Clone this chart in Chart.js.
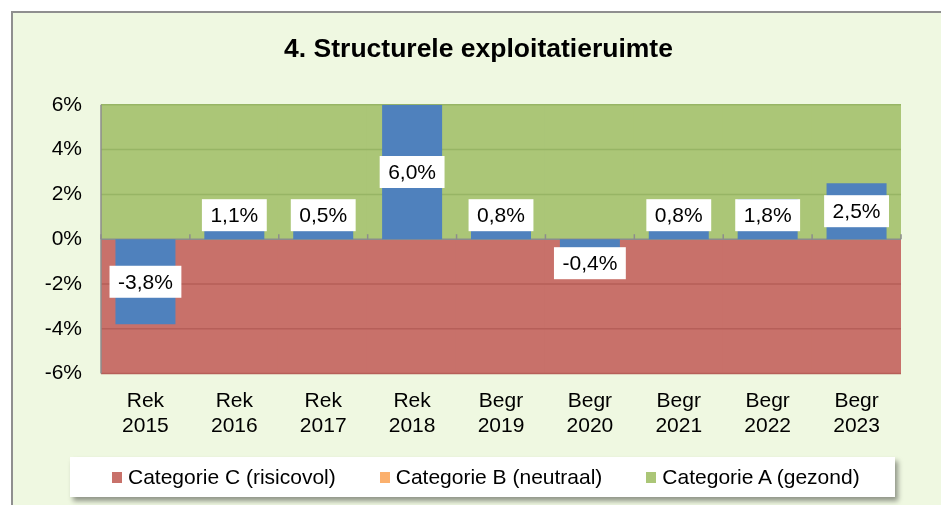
<!DOCTYPE html>
<html>
<head>
<meta charset="utf-8">
<script src="https://cdn.jsdelivr.net/npm/chart.js@4"></script>
<style>
  html, body { margin: 0; padding: 0; background: #ffffff; overflow: hidden; }
  #page { position: relative; width: 941px; height: 505px; }
  #wrap { position: absolute; left: 0; top: 0; width: 941px; height: 505px; }
  #legend { position: absolute; left: 70px; top: 457px; width: 825px; height: 40px; background: #ffffff;
            box-shadow: 3px 4px 5px rgba(0,0,0,0.4); display: flex; align-items: center;
            padding-left: 42px; box-sizing: border-box; font-family: 'Liberation Sans', Arial, sans-serif;
            font-size: 21px; color: #000; }
  .item { display: flex; align-items: center; margin-right: 44px; white-space: nowrap; }
  .swatch { width: 10px; height: 11px; margin-right: 6px; }
</style>
</head>
<body>
<div id="page">
<div id="wrap"><canvas id="chart" width="941" height="505"></canvas></div>
<div id="legend"></div>
</div>
<script>
const categories = [['Rek', '2015'], ['Rek', '2016'], ['Rek', '2017'], ['Rek', '2018'],
  ['Begr', '2019'], ['Begr', '2020'], ['Begr', '2021'], ['Begr', '2022'], ['Begr', '2023']];
const ruimte = [-3.8, 1.1, 0.5, 6.0, 0.8, -0.4, 0.8, 1.8, 2.5];
const catC = [-6, -6, -6, -6, -6, -6, -6, -6, -6];
const catB = [0, 0, 0, 0, 0, 0, 0, 0, 0];
const catA = [6, 6, 6, 6, 6, 6, 6, 6, 6];
const yTicks = [-6, -4, -2, 0, 2, 4, 6];

const font = "'Liberation Sans', Arial, sans-serif";

// chart frame: light green fill with grey top/left edge (the rest is cut off)
const framePlugin = {
  id: 'framePlugin',
  beforeDraw(chart) {
    const { ctx, width, height } = chart;
    ctx.save();
    ctx.fillStyle = '#eff8e1';
    ctx.fillRect(11, 11, width - 11, height - 11);
    ctx.fillStyle = '#8f8f8f';
    ctx.fillRect(11, 11, width - 11, 2);
    ctx.fillRect(11, 11, 2, height - 11);
    ctx.restore();
  }
};

// grid, axes and zero line sit between the background bands and the blue bars
const gridPlugin = {
  id: 'gridPlugin',
  beforeDatasetDraw(chart, args) {
    if (args.index !== 0) return;
    const { ctx, chartArea: a, scales: { x, y } } = chart;
    ctx.save();
    ctx.lineWidth = 1.5;
    yTicks.forEach(v => {
      if (v === 0) return;
      const py = y.getPixelForValue(v);
      ctx.strokeStyle = v > 0 ? '#97b565' : '#b65f59';
      ctx.beginPath();
      ctx.moveTo(a.left, py);
      ctx.lineTo(a.right, py);
      ctx.stroke();
    });
    const zy = y.getPixelForValue(0);
    ctx.strokeStyle = '#8c8c8c';
    ctx.beginPath();
    ctx.moveTo(a.left, zy);
    ctx.lineTo(a.right, zy);
    ctx.stroke();
    for (let i = 0; i <= categories.length; i++) {
      let px;
      if (i === 0) px = a.left;
      else if (i === categories.length) px = a.right;
      else px = (x.getPixelForTick(i - 1) + x.getPixelForTick(i)) / 2;
      ctx.beginPath();
      ctx.moveTo(px, zy);
      ctx.lineTo(px, zy - 5);
      ctx.stroke();
    }
    ctx.beginPath();
    ctx.moveTo(a.left, a.top);
    ctx.lineTo(a.left, a.bottom);
    ctx.stroke();
    ctx.restore();
  }
};

const labelPlugin = {
  id: 'labelPlugin',
  afterDatasetsDraw(chart) {
    const { ctx, scales: { y } } = chart;
    const meta = chart.getDatasetMeta(0);
    const zy = y.getPixelForValue(0);
    ctx.save();
    ctx.font = '21px ' + font;
    ctx.textAlign = 'center';
    ctx.textBaseline = 'middle';
    meta.data.forEach((bar, i) => {
      const v = ruimte[i];
      const text = v.toFixed(1).replace('.', ',') + '%';
      let off = (bar.y + bar.base) / 2 - zy;
      if (Math.abs(off) < 24) off = v < 0 ? 24 : -24;
      const cy = zy + off;
      const w = ctx.measureText(text).width + 17;
      const h = 32;
      ctx.fillStyle = '#ffffff';
      ctx.fillRect(bar.x - w / 2, cy - h / 2, w, h);
      ctx.fillStyle = '#000000';
      ctx.fillText(text, bar.x, cy + 1);
    });
    ctx.restore();
  }
};

const bgOpts = { stack: 'bg', barPercentage: 1.02, categoryPercentage: 1, borderWidth: 0 };

const chart = new Chart(document.getElementById('chart').getContext('2d'), {
  type: 'bar',
  data: {
    labels: categories,
    datasets: [
      { label: 'Structurele exploitatieruimte', data: ruimte, backgroundColor: '#4f81bd', stack: 'val',
        barPercentage: 0.675, categoryPercentage: 1, borderWidth: 0 },
      Object.assign({ label: 'Categorie C (risicovol)', data: catC, backgroundColor: '#c8716a' }, bgOpts),
      Object.assign({ label: 'Categorie B (neutraal)', data: catB, backgroundColor: '#fbb06d' }, bgOpts),
      Object.assign({ label: 'Categorie A (gezond)', data: catA, backgroundColor: '#abc677' }, bgOpts)
    ]
  },
  options: {
    responsive: false,
    animation: false,
    datasets: { bar: { grouped: false } },
    layout: { padding: { left: 40, right: 24, top: 10, bottom: 51 } },
    plugins: {
      legend: { display: false },
      tooltip: { enabled: false },
      title: {
        display: true,
        text: '4. Structurele exploitatieruimte',
        color: '#000000',
        font: { family: font, size: 26.5, weight: 'bold' },
        padding: { top: 24, bottom: 39 }
      }
    },
    scales: {
      x: {
        grid: { display: false, drawTicks: false },
        border: { display: false },
        ticks: { color: '#000000', font: { family: font, size: 21 }, padding: 15, maxRotation: 0 }
      },
      y: {
        stacked: true,
        min: -6,
        max: 6,
        afterFit: s => { s.width = 61; },
        grid: { display: false, drawTicks: false },
        border: { display: false },
        ticks: { stepSize: 2, color: '#000000', font: { family: font, size: 21 }, padding: 19,
                 callback: v => v + '%' }
      },
      // empty spacer on the right so the title sits where the original has it
      yRight: {
        position: 'right',
        afterFit: s => { s.width = 16; },
        grid: { display: false, drawTicks: false },
        border: { display: false },
        ticks: { display: false }
      }
    }
  },
  plugins: [framePlugin, gridPlugin, labelPlugin]
});

// legend for the three category bands
const legend = document.getElementById('legend');
chart.data.datasets.slice(1).forEach(ds => {
  const item = document.createElement('div');
  item.className = 'item';
  const sw = document.createElement('span');
  sw.className = 'swatch';
  sw.style.background = ds.backgroundColor;
  const tx = document.createElement('span');
  tx.textContent = ds.label;
  item.appendChild(sw);
  item.appendChild(tx);
  legend.appendChild(item);
});
</script>
</body>
</html>
